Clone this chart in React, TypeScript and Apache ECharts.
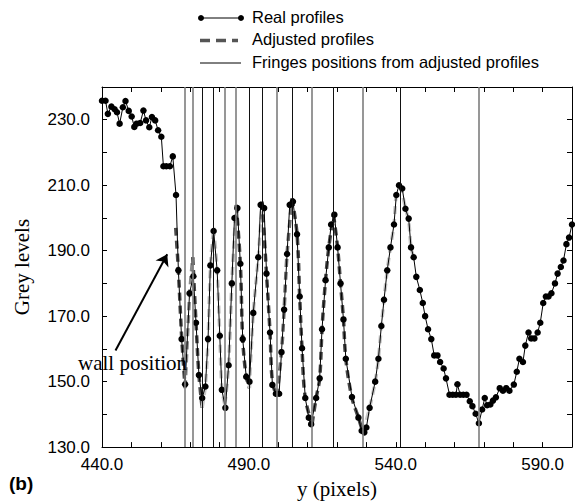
import React, { useEffect, useRef } from 'react';
import * as echarts from 'echarts';

// ---- Real profile (black dots) ----
const realX = [
  440.0, 441.2, 442.0, 443.2, 444.3, 445.1, 446.0, 447.1, 448.0, 449.1, 450.1, 451.0, 451.8, 453.0, 454.1,
  455.0, 456.1, 457.0, 458.1, 459.1, 460.2, 460.9, 461.9, 463.1, 464.1, 465.2, 466.0, 467.1, 468.3, 469.8,
  471.1, 472.0, 473.0, 474.1, 475.2, 476.1, 476.9, 478.0, 479.2, 480.1, 480.8, 482.0, 483.1, 484.2, 485.1,
  486.1, 487.1, 487.9, 489.1, 490.2, 491.5, 493.2, 494.0, 495.2, 496.0, 497.2, 498.0, 499.2, 500.3, 501.1,
  502.0, 503.0, 503.9, 505.0, 506.4, 507.3, 508.1, 509.2, 510.4, 511.2, 512.9, 514.1, 514.9, 516.1, 517.2,
  518.0, 519.1, 520.2, 521.2, 522.2, 523.0, 525.1, 527.3, 528.4, 529.3, 530.0, 531.1, 533.0, 534.1, 535.1,
  536.0, 537.1, 538.2, 539.4, 540.2, 541.1, 542.2, 543.3, 544.4, 545.2, 546.1, 547.0, 548.2, 549.2, 550.0,
  551.0, 552.1, 553.1, 554.2, 555.1, 556.3, 557.1, 558.3, 559.4, 560.5, 561.0, 561.9, 563.0, 564.1, 565.2,
  566.1, 567.2, 568.3, 569.4, 570.3, 571.1, 572.2, 573.1, 574.1, 575.4, 576.5, 577.6, 578.7, 580.2, 581.2,
  582.1, 583.3, 584.1, 585.2, 586.1, 587.2, 588.3, 589.2, 590.2, 591.1, 592.0, 593.0, 594.2, 595.1, 596.2,
  597.1, 598.1, 599.0, 600.0,
];
const realY = [
  235.8, 235.8, 231.8, 234.0, 233.2, 232.3, 228.8, 233.8, 235.7, 232.7, 231.0, 227.8, 228.8, 229.0, 232.8,
  229.8, 227.7, 230.8, 229.8, 226.8, 224.8, 215.8, 215.8, 215.8, 218.8, 207.0, 184.0, 163.0, 149.2, 177.0,
  182.2, 168.0, 152.0, 145.0, 148.5, 163.0, 185.5, 196.0, 184.0, 164.0, 147.5, 142.0, 155.0, 180.0, 200.0,
  203.0, 186.0, 163.0, 151.5, 150.0, 171.0, 188.0, 204.0, 203.0, 183.0, 165.0, 149.0, 146.3, 146.3, 159.0,
  172.0, 189.0, 204.0, 205.0, 195.0, 176.0, 160.2, 145.0, 139.0, 137.0, 145.0, 151.0, 166.0, 181.0, 191.0,
  198.0, 201.0, 191.0, 180.0, 169.0, 157.0, 145.3, 139.0, 135.0, 134.5, 136.0, 142.0, 150.0, 157.0, 167.0,
  175.0, 184.0, 191.0, 198.0, 207.0, 210.0, 209.0, 202.8, 199.8, 191.0, 188.0, 182.0, 178.0, 174.0, 170.0,
  166.0, 163.0, 158.0, 158.0, 156.0, 154.0, 151.0, 146.0, 146.0, 146.0, 149.2, 146.0, 146.0, 146.0, 144.0,
  142.5, 140.2, 137.3, 141.5, 145.0, 142.8, 143.0, 144.2, 145.2, 148.0, 147.2, 148.0, 147.2, 149.1, 153.0,
  157.0, 156.0, 161.0, 165.0, 163.2, 163.2, 165.0, 168.0, 174.0, 176.0, 176.0, 177.0, 180.0, 183.0, 185.0,
  187.0, 192.0, 194.0, 198.0,
];

// ---- Adjusted profile (grey dashed) ----
const adjustedX = [
  465.1, 466.0, 467.1, 468.3, 469.8, 470.9, 472.0, 473.0, 474.1, 475.2, 476.1, 476.9, 478.0, 479.2, 480.1,
  480.8, 481.8, 483.1, 484.2, 485.7, 487.1, 487.9, 489.1, 490.2, 491.5, 493.2, 494.5, 496.0, 497.2, 498.0,
  499.5, 501.1, 502.0, 503.0, 504.7, 506.4, 507.3, 508.1, 509.2, 511.5, 512.9, 514.1, 514.9, 516.1, 517.2,
  518.8, 520.2, 521.2, 522.2, 523.0, 525.1, 527.3, 528.8, 531.1, 533.0, 534.1, 535.1, 536.0, 537.1, 538.2,
  539.4, 540.2, 541.6, 543.3, 544.4, 545.2, 546.1,
];
const adjustedY = [
  197.0, 184.0, 164.0, 148.0, 176.0, 188.0, 168.0, 152.0, 142.0, 149.0, 163.0, 185.0, 197.0, 184.0, 164.0,
  148.0, 143.0, 155.0, 180.0, 204.0, 186.0, 163.0, 151.5, 148.0, 171.0, 188.0, 205.0, 183.0, 165.0, 150.0,
  145.5, 159.0, 172.0, 189.0, 206.0, 195.0, 176.0, 160.0, 145.0, 137.0, 145.0, 151.0, 166.0, 181.0, 191.0,
  201.0, 191.0, 180.0, 169.0, 157.0, 145.0, 139.0, 134.5, 142.0, 150.0, 157.0, 167.0, 175.0, 184.0, 191.0,
  198.0, 207.0, 210.0, 203.0, 199.0, 191.0, 188.0,
];

// ---- Fringe positions (vertical lines) ----
const fringePositions = [
  468.3, 470.9, 474.1, 478.0, 481.8, 485.7, 490.2, 494.5, 499.5, 504.7, 511.5, 518.8, 528.8, 541.6, 568.4,
];

// ---- Tick labels ----
const xTickLabels = [440, 490, 540, 590];
const yTickLabels = [130, 150, 170, 190, 210, 230];

// ---- Annotation (data coordinates) ----
const wallArrowFrom = [444.6, 159.5];
const wallArrowTo = [462.2, 188.9];

// styles
const GRAY_FRINGES = [0, 1, 4, 5, 8, 10, 12, 14];
const SEGMENT_SHADES = ['#4a4a4a', '#8a8a8a', '#4a4a4a', '#c8c8c8', '#c8c8c8', '#bdbdbd', '#4a4a4a', '#c8c8c8',
  '#4a4a4a', '#6e6e6e', '#4a4a4a', '#4a4a4a', '#4a4a4a', '#c8c8c8', '#c8c8c8'];

const SANS = '"Liberation Sans", Arial, Helvetica, sans-serif';
const SERIF = '"Liberation Serif", "Times New Roman", serif';

export default function App() {
  const ref = useRef<HTMLDivElement>(null);

  useEffect(() => {
    if (!ref.current) return;
    const chart = echarts.init(ref.current, undefined, { renderer: 'svg' });

    // split adjusted profile into half-period segments bounded by fringe positions
    const bounds = [-Infinity, ...fringePositions.slice(0, 14), Infinity];
    const segments = SEGMENT_SHADES.map((_, s) => {
      const pts: number[][] = [];
      adjustedX.forEach((x, i) => {
        if (x >= bounds[s] - 1e-6 && x <= bounds[s + 1] + 1e-6) pts.push([x, adjustedY[i]]);
      });
      return pts;
    });

    const axisCommon = {
      type: 'value' as const,
      axisLine: { show: true, onZero: false, lineStyle: { color: '#000', width: 1 } },
      axisTick: { show: true, inside: true, length: 5, lineStyle: { color: '#000', width: 1 } },
      splitLine: { show: false },
    };

    const adjustedSeries = segments.map((pts, s) => ({
      name: 'Adjusted profiles',
      type: 'line',
      data: pts,
      smooth: 0.35,
      showSymbol: false,
      z: 2,
      silent: true,
      lineStyle: { width: 3.5, type: [8, 5], color: SEGMENT_SHADES[s] },
      itemStyle: { color: SEGMENT_SHADES[s] },
    }));

    chart.setOption({
      animation: false,
      backgroundColor: '#fff',
      grid: { left: 102, top: 87, width: 474, height: 366, containLabel: false },
      xAxis: [
        {
          ...axisCommon,
          position: 'bottom',
          min: 440, max: 600, interval: 10,
          axisLabel: {
            color: '#000', fontFamily: SANS, fontSize: 17, margin: 9,
            formatter: (v: number) => (xTickLabels.includes(Math.round(v)) ? v.toFixed(1) : ''),
          },
          name: 'y (pixels)', nameLocation: 'middle', nameGap: 25,
          nameTextStyle: { color: '#000', fontFamily: SERIF, fontSize: 21 },
        },
        {
          ...axisCommon,
          position: 'top',
          min: 440, max: 600, interval: 10,
          axisLabel: { show: false },
        },
      ],
      yAxis: [
        {
          ...axisCommon,
          position: 'left',
          min: 130, max: 240, interval: 10,
          axisLabel: {
            color: '#000', fontFamily: SANS, fontSize: 17, margin: 12,
            formatter: (v: number) => (yTickLabels.includes(Math.round(v)) ? v.toFixed(1) : ''),
          },
          name: 'Grey levels', nameLocation: 'middle', nameGap: 70, nameRotate: 90,
          nameTextStyle: { color: '#000', fontFamily: SERIF, fontSize: 21 },
        },
        {
          ...axisCommon,
          position: 'right',
          min: 130, max: 240, interval: 10,
          axisLabel: { show: false },
        },
      ],
      series: [
        ...adjustedSeries,
        {
          name: 'Fringes positions from adjusted profiles',
          type: 'line',
          data: [],
          z: 3,
          markLine: {
            silent: true,
            symbol: 'none',
            label: { show: false },
            data: fringePositions.map((x, i) => ({
              xAxis: x,
              lineStyle: {
                type: 'solid',
                color: GRAY_FRINGES.includes(i) ? '#7d7d7d' : '#111',
                width: GRAY_FRINGES.includes(i) ? 1.6 : 1,
              },
            })),
          },
        },
        {
          name: 'Real profiles',
          type: 'line',
          data: realX.map((x, i) => [x, realY[i]]),
          symbol: 'circle',
          symbolSize: 6.5,
          z: 4,
          itemStyle: { color: '#000' },
          lineStyle: { color: '#000', width: 1 },
          silent: true,
          markLine: {
            silent: true,
            symbol: ['none', 'arrow'],
            symbolSize: 11,
            label: { show: false },
            lineStyle: { color: '#000', width: 2, type: 'solid' },
            data: [[{ coord: wallArrowFrom }, { coord: wallArrowTo }]],
          },
        },
      ],
      graphic: [
        // legend
        { type: 'line', shape: { x1: 200, y1: 18, x2: 241, y2: 18 }, style: { stroke: '#000', lineWidth: 1 } },
        { type: 'circle', shape: { cx: 201, cy: 18, r: 3 }, style: { fill: '#000' } },
        { type: 'circle', shape: { cx: 241, cy: 18, r: 3 }, style: { fill: '#000' } },
        { type: 'text', left: 252, top: 8, style: { text: 'Real profiles', fill: '#000', font: `16.5px ${SANS}` } },
        { type: 'line', shape: { x1: 200, y1: 40.5, x2: 238, y2: 40.5 }, style: { stroke: '#555', lineWidth: 3.5, lineDash: [10, 6] } },
        { type: 'text', left: 252, top: 30.5, style: { text: 'Adjusted profiles', fill: '#000', font: `16.5px ${SANS}` } },
        { type: 'line', shape: { x1: 200, y1: 63, x2: 241, y2: 63 }, style: { stroke: '#000', lineWidth: 1 } },
        { type: 'text', left: 252, top: 53, style: { text: 'Fringes positions from adjusted profiles', fill: '#000', font: `16.5px ${SANS}` } },
        // annotation
        { type: 'text', left: 78, top: 352, z: 10, style: { text: 'wall position', fill: '#000', font: `21px ${SERIF}` } },
        { type: 'text', left: 9, top: 474, style: { text: '(b)', fill: '#000', font: `bold 19px ${SANS}` } },
      ],
    });

    return () => chart.dispose();
  }, []);

  return (
    <div
      ref={ref}
      style={{ position: 'absolute', left: 0, top: 0, width: 575, height: 504, background: '#fff' }}
    />
  );
}
